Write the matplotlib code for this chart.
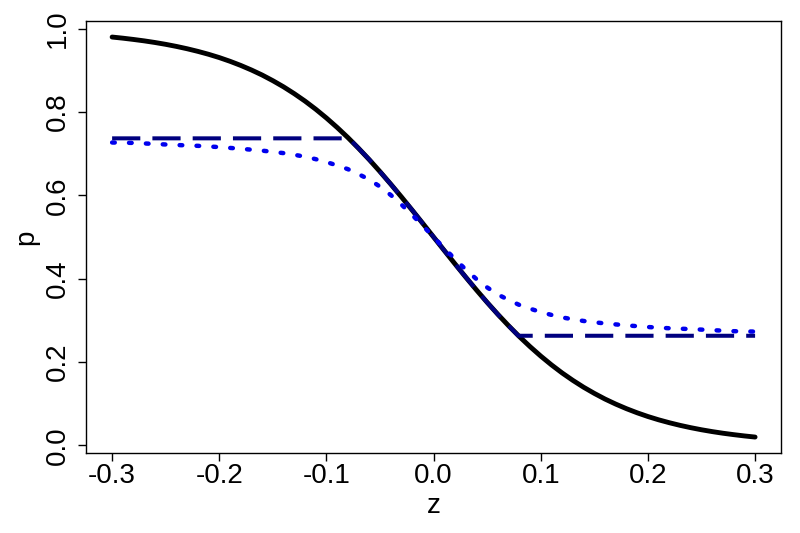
import matplotlib
matplotlib.use("Agg")
import matplotlib.pyplot as plt

plt.rcParams['font.family'] = ['Liberation Sans', 'DejaVu Sans']

# black solid curve
z_solid = [-0.30, -0.29, -0.28, -0.27, -0.26, -0.25, -0.24, -0.23, -0.22, -0.21,
           -0.20, -0.19, -0.18, -0.17, -0.16, -0.15, -0.14, -0.13, -0.12, -0.11,
           -0.10, -0.09, -0.08, -0.07, -0.06, -0.05, -0.04, -0.03, -0.02, -0.01,
           0.00, 0.01, 0.02, 0.03, 0.04, 0.05, 0.06, 0.07, 0.08, 0.09,
           0.10, 0.11, 0.12, 0.13, 0.14, 0.15, 0.16, 0.17, 0.18, 0.19,
           0.20, 0.21, 0.22, 0.23, 0.24, 0.25, 0.26, 0.27, 0.28, 0.29, 0.30]
p_solid = [0.9802, 0.9775, 0.9744, 0.9710, 0.9671, 0.9627, 0.9577, 0.9521, 0.9458, 0.9388,
           0.9309, 0.9220, 0.9121, 0.9011, 0.8890, 0.8754, 0.8606, 0.8442, 0.8264, 0.8069,
           0.7858, 0.7631, 0.7389, 0.7130, 0.6857, 0.6570, 0.6271, 0.5963, 0.5646, 0.5325,
           0.5000, 0.4675, 0.4354, 0.4037, 0.3729, 0.3430, 0.3143, 0.2870, 0.2611, 0.2369,
           0.2142, 0.1931, 0.1736, 0.1558, 0.1394, 0.1246, 0.1110, 0.0989, 0.0879, 0.0780,
           0.0691, 0.0612, 0.0542, 0.0479, 0.0423, 0.0373, 0.0329, 0.0290, 0.0256, 0.0225, 0.0198]

# dashed (clipped) curve
z_dash = [-0.30, -0.079, -0.07, -0.06, -0.05, -0.04, -0.03, -0.02, -0.01, 0.00,
          0.01, 0.02, 0.03, 0.04, 0.05, 0.06, 0.07, 0.079, 0.30]
p_dash = [0.737, 0.737, 0.713, 0.686, 0.657, 0.627, 0.596, 0.565, 0.532, 0.500,
          0.468, 0.435, 0.404, 0.373, 0.343, 0.314, 0.287, 0.263, 0.263]

# dotted curve
z_dot = [-0.30, -0.28, -0.26, -0.24, -0.22, -0.20, -0.18, -0.16, -0.14, -0.13, -0.12,
         -0.11, -0.10, -0.09, -0.08, -0.07, -0.06, -0.05, -0.04, -0.03, -0.02, -0.01,
         0.00, 0.01, 0.02, 0.03, 0.04, 0.05, 0.06, 0.07, 0.08, 0.09, 0.10, 0.11,
         0.12, 0.13, 0.14, 0.16, 0.18, 0.20, 0.22, 0.24, 0.26, 0.28, 0.30]
p_dot = [0.727, 0.726, 0.7235, 0.721, 0.719, 0.716, 0.712, 0.7075, 0.7015, 0.6975, 0.693,
         0.687, 0.680, 0.672, 0.663, 0.651, 0.638, 0.621, 0.601, 0.578, 0.553, 0.527,
         0.500, 0.473, 0.447, 0.422, 0.399, 0.379, 0.362, 0.349, 0.337, 0.328, 0.320, 0.313,
         0.307, 0.3025, 0.2985, 0.2925, 0.288, 0.284, 0.281, 0.279, 0.2765, 0.274, 0.273]

xticks = [-0.3, -0.2, -0.1, 0.0, 0.1, 0.2, 0.3]
yticks = [0.0, 0.2, 0.4, 0.6, 0.8, 1.0]

fig = plt.figure(figsize=(8, 5.33), dpi=100)
ax = fig.add_axes([0.108, 0.150, 0.868, 0.8105])

ax.plot(z_solid, p_solid, color='black', lw=3.5, solid_capstyle='round', solid_joinstyle='round')
ax.plot(z_dash, p_dash, color='#00007F', lw=2.9, dashes=(7, 3), dash_capstyle='butt')
ax.plot(z_dot, p_dot, color='#0000EE', lw=3.2, dashes=(0.6, 3.2), dash_capstyle='round')

ax.set_xlim(-0.324, 0.324)
ax.set_ylim(-0.0186, 1.0186)
ax.set_xticks(xticks)
ax.set_xticklabels([f"{t:.1f}" for t in xticks])
ax.set_yticks(yticks)
ax.set_yticklabels([f"{t:.1f}" for t in yticks], rotation=90, va='center')
ax.tick_params(direction='out', length=5.5, width=1, labelsize=20)
ax.tick_params(axis='x', pad=1.5)
ax.tick_params(axis='y', pad=6)
for s in ax.spines.values():
    s.set_linewidth(1.0)
ax.set_xlabel('z', fontsize=20, labelpad=3)
ax.set_ylabel('p', fontsize=20, labelpad=4)

fig.savefig('out.png', dpi=100)
